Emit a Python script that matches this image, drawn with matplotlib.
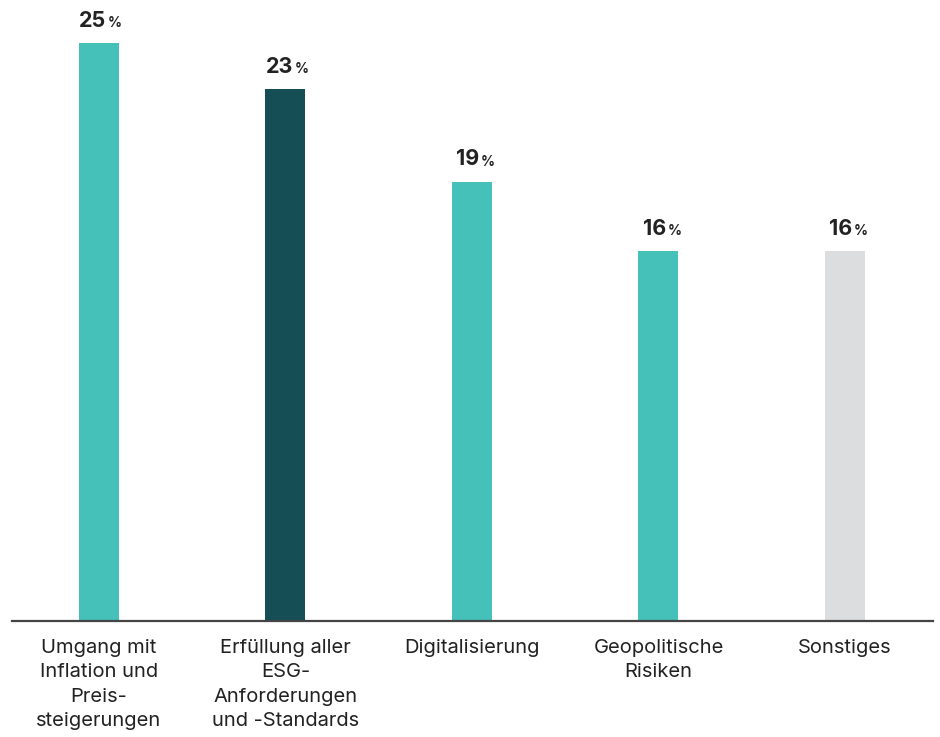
import matplotlib
matplotlib.use("Agg")
import matplotlib.pyplot as plt

plt.rcParams['font.family'] = ['Inter', 'DejaVu Sans']

# Werte aus der Grafik
kategorien = [
    "Umgang mit\nInflation und\nPreis-\nsteigerungen",
    "Erfüllung aller\nESG-\nAnforderungen\nund -Standards",
    "Digitalisierung",
    "Geopolitische\nRisiken",
    "Sonstiges",
]
werte = [25, 23, 19, 16, 16]
farben = ["#45c1b9", "#154e55", "#45c1b9", "#45c1b9", "#dcdddf"]

fig = plt.figure(figsize=(9.4, 7.37), dpi=100)
ax = fig.add_axes([12 / 940, (737 - 621) / 737, (933 - 12) / 940, 621 / 737])

x = list(range(len(werte)))
ax.bar(x, werte, width=0.214, color=farben, zorder=2)

ax.set_xlim(-0.466, 4.472)
ax.set_ylim(0, 26.86)

for xi, w in zip(x, werte):
    ax.annotate(str(w), (xi, w), xytext=(5.5, 9), textcoords="offset points",
                ha="right", va="bottom", fontsize=15.5, fontweight="bold", color="#222222")
    ax.annotate("%", (xi, w), xytext=(6.5, 9.5), textcoords="offset points",
                ha="left", va="bottom", fontsize=10, fontweight="bold", color="#222222")

# Achse
for s in ["top", "right", "left"]:
    ax.spines[s].set_visible(False)
ax.spines["bottom"].set_color("#444444")
ax.spines["bottom"].set_linewidth(1.6)
ax.set_yticks([])
ax.set_xticks(x)
ax.set_xticklabels(kategorien, fontsize=14.5, color="#222222", linespacing=1.45)
ax.tick_params(axis="x", length=0, pad=13)

fig.savefig("out.png", dpi=100)
